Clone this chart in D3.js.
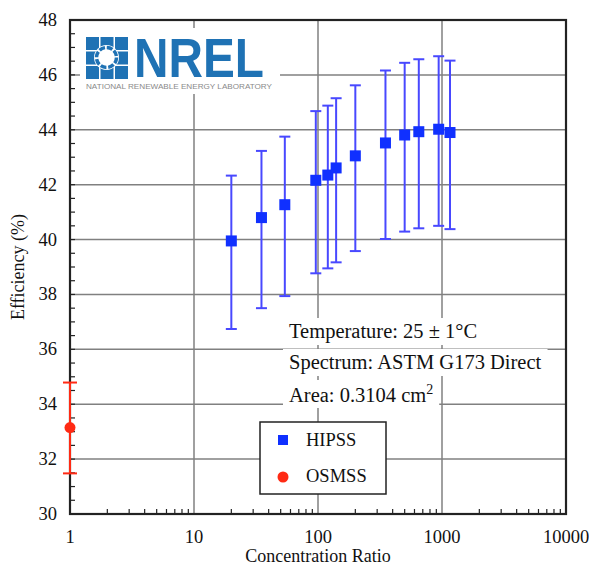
<!DOCTYPE html>
<html>
<head>
<meta charset="utf-8">
<script src="https://cdn.jsdelivr.net/npm/d3@7"></script>
<style>
  body { margin: 0; background: #fff; }
  text { font-family: "Liberation Serif", "Times New Roman", serif; }
</style>
</head>
<body>
<div id="chart"></div>
<script>
// HIPSS measurements: concentration ratio, efficiency, error bar low / high
const hipssRatio = [20, 35, 54, 96, 120, 140, 200, 350, 500, 650, 940, 1160]
const hipssEff   = [39.95, 40.80, 41.27, 42.16, 42.35, 42.61, 43.05, 43.52, 43.81, 43.93, 44.02, 43.90]
const hipssLow   = [36.74, 37.50, 37.94, 38.77, 38.95, 39.17, 39.58, 40.02, 40.29, 40.41, 40.50, 40.38]
const hipssHigh  = [42.33, 43.23, 43.75, 44.68, 44.88, 45.15, 45.62, 46.16, 46.44, 46.57, 46.68, 46.52]

// OSMSS measurement
const osmssRatio = [1]
const osmssEff   = [33.15]
const osmssLow   = [31.48]
const osmssHigh  = [34.79]

const xTicks = [1, 10, 100, 1000, 10000]
const yTicks = [30, 32, 34, 36, 38, 40, 42, 44, 46, 48]
const notes = ["Temperature: 25 ± 1°C", "Spectrum: ASTM G173 Direct", "Area: 0.3104 cm"]

const WIDTH = 589
const HEIGHT = 567
const PLOT = {LEFT:70, RIGHT:566, TOP:20, BOTTOM:514}

const BLUE = "#1030ff"
const BLUE_BAR = "#4848ff"
const RED = "#ff2a14"

const hipss = hipssRatio.map((r, i) => ({r:r, v:hipssEff[i], lo:hipssLow[i], hi:hipssHigh[i]}))
const osmss = osmssRatio.map((r, i) => ({r:r, v:osmssEff[i], lo:osmssLow[i], hi:osmssHigh[i]}))

let svg = d3.select("#chart").append("svg")
    .attr("width", WIDTH)
    .attr("height", HEIGHT)

let xScale = d3.scaleLog().domain([1, 10000]).range([PLOT.LEFT, PLOT.RIGHT])
let yScale = d3.scaleLinear().domain([30, 48]).range([PLOT.BOTTOM, PLOT.TOP])

// grid lines
svg.append("g")
    .selectAll("line")
    .data(yTicks.slice(1, -1))
    .enter().append("line")
        .attr("x1", PLOT.LEFT).attr("x2", PLOT.RIGHT)
        .attr("y1", d=>yScale(d)).attr("y2", d=>yScale(d))
        .attr("stroke", "#808080").attr("stroke-width", 1.5)
svg.append("g")
    .selectAll("line")
    .data(xTicks.slice(1, -1))
    .enter().append("line")
        .attr("x1", d=>xScale(d)).attr("x2", d=>xScale(d))
        .attr("y1", PLOT.TOP).attr("y2", PLOT.BOTTOM)
        .attr("stroke", "#808080").attr("stroke-width", 1.5)

// minor ticks inside the frame
let minorX = []
for (let dec = 1; dec < 10000; dec *= 10)
    for (let k = 2; k <= 9; k++) minorX.push(dec * k)
svg.append("g")
    .selectAll("line")
    .data(minorX)
    .enter().append("line")
        .attr("x1", d=>xScale(d)).attr("x2", d=>xScale(d))
        .attr("y1", PLOT.BOTTOM).attr("y2", PLOT.BOTTOM - 5)
        .attr("stroke", "#222").attr("stroke-width", 1.2)
svg.append("g")
    .selectAll("line")
    .data(d3.range(30.5, 48, 0.5))
    .enter().append("line")
        .attr("x1", PLOT.LEFT).attr("x2", PLOT.LEFT + 5)
        .attr("y1", d=>yScale(d)).attr("y2", d=>yScale(d))
        .attr("stroke", "#222").attr("stroke-width", 1.2)

// NREL logo
let logo = svg.append("g")
logo.append("rect").attr("x", 80).attr("y", 28).attr("width", 200).attr("height", 66).attr("fill", "#fff")
const LX = 86, LY = 37, CELL = 13, GAP = 1.5
for (let i = 0; i < 3; i++) {
    for (let j = 0; j < 3; j++) {
        if (i == 1 && j == 1) continue
        logo.append("rect")
            .attr("x", LX + i * (CELL + GAP)).attr("y", LY + j * (CELL + GAP))
            .attr("width", CELL).attr("height", CELL)
            .attr("fill", "#1f72b4")
    }
}
logo.append("circle").attr("cx", LX + 20.5).attr("cy", LY + 20.5).attr("r", 12.5).attr("fill", "#fff")
logo.append("circle").attr("cx", LX + 20.5).attr("cy", LY + 20.5).attr("r", 10)
    .attr("fill", "none").attr("stroke", "#1f72b4").attr("stroke-width", 3.5)
    .attr("stroke-dasharray", "6 1.85")
logo.append("text")
    .attr("x", 134).attr("y", 77)
    .attr("textLength", 130).attr("lengthAdjust", "spacingAndGlyphs")
    .style("font-family", "'Liberation Sans', Arial, sans-serif")
    .style("font-size", "56px").style("font-weight", "bold")
    .attr("fill", "#1f72b4")
    .text("NREL")
logo.append("text")
    .attr("x", 86).attr("y", 89)
    .attr("textLength", 186).attr("lengthAdjust", "spacingAndGlyphs")
    .style("font-family", "'Liberation Sans', Arial, sans-serif")
    .style("font-size", "7.5px")
    .attr("fill", "#8a8a8a")
    .text("NATIONAL RENEWABLE ENERGY LABORATORY")

// annotation with white backing behind each line
let noteG = svg.append("g")
let noteY = [338, 369, 402]
notes.forEach((t, i) => {
    let g = noteG.append("g")
    let txt = g.append("text")
        .attr("x", 289).attr("y", noteY[i])
        .style("font-size", "20.5px")
        .attr("fill", "#111")
        .text(t)
    if (i == 2) txt.append("tspan").attr("dy", -8).style("font-size", "14px").text("2")
    let bb = txt.node().getBBox()
    g.insert("rect", "text")
        .attr("x", bb.x - 6).attr("y", bb.y - 2)
        .attr("width", bb.width + 12).attr("height", bb.height + 4)
        .attr("fill", "#fff")
})

// frame
svg.append("rect")
    .attr("x", PLOT.LEFT).attr("y", PLOT.TOP)
    .attr("width", PLOT.RIGHT - PLOT.LEFT).attr("height", PLOT.BOTTOM - PLOT.TOP)
    .attr("fill", "none").attr("stroke", "#222").attr("stroke-width", 2.2)

// error bars
function errorBars(data, colour, cap, width) {
    let g = svg.append("g").attr("stroke", colour).attr("stroke-width", width)
    g.selectAll(".v").data(data).enter().append("line")
        .attr("x1", d=>xScale(d.r)).attr("x2", d=>xScale(d.r))
        .attr("y1", d=>yScale(d.lo)).attr("y2", d=>yScale(d.hi))
    g.selectAll(".lo").data(data).enter().append("line")
        .attr("x1", d=>xScale(d.r) - cap / 2).attr("x2", d=>xScale(d.r) + cap / 2)
        .attr("y1", d=>yScale(d.lo)).attr("y2", d=>yScale(d.lo))
    g.selectAll(".hi").data(data).enter().append("line")
        .attr("x1", d=>xScale(d.r) - cap / 2).attr("x2", d=>xScale(d.r) + cap / 2)
        .attr("y1", d=>yScale(d.hi)).attr("y2", d=>yScale(d.hi))
}
errorBars(hipss, BLUE_BAR, 11, 2)
errorBars(osmss, RED, 14, 2)

// markers
svg.append("g")
    .selectAll("rect")
    .data(hipss)
    .enter().append("rect")
        .attr("x", d=>xScale(d.r) - 5.5).attr("y", d=>yScale(d.v) - 5.5)
        .attr("width", 11).attr("height", 11)
        .attr("fill", BLUE)
svg.append("g")
    .selectAll("circle")
    .data(osmss)
    .enter().append("circle")
        .attr("cx", d=>xScale(d.r)).attr("cy", d=>yScale(d.v))
        .attr("r", 5.5)
        .attr("fill", RED)

// tick labels
svg.append("g")
    .selectAll("text")
    .data(yTicks)
    .enter().append("text")
        .attr("x", 57).attr("y", d=>yScale(d) + 6)
        .attr("text-anchor", "end")
        .style("font-size", "18.5px")
        .attr("fill", "#111")
        .text(d=>d)
svg.append("g")
    .selectAll("text")
    .data(xTicks)
    .enter().append("text")
        .attr("x", d=>xScale(d)).attr("y", 543)
        .attr("text-anchor", "middle")
        .style("font-size", "18.5px")
        .attr("fill", "#111")
        .text(d=>d)

// axis titles
svg.append("text")
    .attr("x", (PLOT.LEFT + PLOT.RIGHT) / 2).attr("y", 562)
    .attr("text-anchor", "middle")
    .style("font-size", "18px")
    .attr("fill", "#111")
    .text("Concentration Ratio")
svg.append("text")
    .attr("transform", "translate(24," + ((PLOT.TOP + PLOT.BOTTOM) / 2) + ") rotate(-90)")
    .attr("text-anchor", "middle")
    .style("font-size", "18px")
    .attr("fill", "#111")
    .text("Efficiency (%)")

// legend
let legend = svg.append("g")
legend.append("rect")
    .attr("x", 260).attr("y", 422).attr("width", 126).attr("height", 72)
    .attr("fill", "#fff").attr("stroke", "#222").attr("stroke-width", 1.5)
legend.append("rect").attr("x", 278).attr("y", 435).attr("width", 10).attr("height", 10).attr("fill", BLUE)
legend.append("circle").attr("cx", 283).attr("cy", 477).attr("r", 5.5).attr("fill", RED)
legend.append("text").attr("x", 306).attr("y", 446).style("font-size", "18.5px").attr("fill", "#111").text("HIPSS")
legend.append("text").attr("x", 306).attr("y", 482).style("font-size", "18.5px").attr("fill", "#111").text("OSMSS")
</script>
</body>
</html>
